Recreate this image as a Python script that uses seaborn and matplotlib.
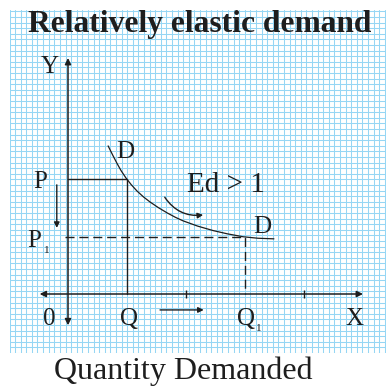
import matplotlib
matplotlib.use("Agg")
import matplotlib.pyplot as plt
from matplotlib.ticker import MultipleLocator
import pandas as pd
import seaborn as sns

# Quantity / price levels (economic units)
q_levels = [1.0, 3.0]          # Q, Q1
p_levels = [1.95, 0.97]        # P, P1
axis_ticks = [2.0, 4.0]

# Demand curve D-D read along its length
demand_qty = [0.68, 0.76, 0.83, 0.90, 0.98, 1.07, 1.17, 1.28, 1.39, 1.53,
              1.68, 1.82, 1.95, 2.20, 2.46, 2.70, 2.97, 3.22, 3.49]
demand_price = [2.51, 2.35, 2.215, 2.09, 1.97, 1.855, 1.745, 1.645, 1.56, 1.465,
                1.375, 1.30, 1.24, 1.15, 1.075, 1.02, 0.97, 0.945, 0.935]

title = "Relatively elastic demand"
xlabel = "Quantity Demanded"
elasticity_label = "Ed > 1"

sns.set_theme(style="white")
plt.rcParams["font.family"] = ["Liberation Serif", "DejaVu Serif"]

W, H = 386, 387
fig = plt.figure(figsize=(W / 100, H / 100), dpi=100)
fig.patch.set_facecolor("white")

UNIT = 59.0           # pixels per unit
OX, OY = 68.0, 294.0  # origin in pixels
GL, GR, GT, GB = 9.5, 386.0, 10.0, 353.0
ax = fig.add_axes([GL / W, 1 - GB / H, (GR - GL) / W, (GB - GT) / H])
ax.set_xlim((GL - OX) / UNIT, (GR - OX) / UNIT)
ax.set_ylim((OY - GB) / UNIT, (OY - GT) / UNIT)
for s in ax.spines.values():
    s.set_visible(False)

# graph-paper background
cell = 5.6 / UNIT
ax.xaxis.set_major_locator(MultipleLocator(cell, offset=ax.get_xlim()[0] % cell))
ax.yaxis.set_major_locator(MultipleLocator(cell, offset=ax.get_ylim()[0] % cell))
ax.grid(True, color="#96d6f4", linewidth=0.75, alpha=1.0)
ax.set_axisbelow(True)
ax.tick_params(length=0, labelbottom=False, labelleft=False)
ax.set_xlabel("")
ax.set_ylabel("")

ink = "#1e1e1e"
arrow_kw = dict(arrowstyle="<|-|>", color=ink, lw=1.1,
                mutation_scale=9, shrinkA=0, shrinkB=0)

# axes with arrowheads
ax.annotate("", xy=(0, 4.0), xytext=(0, -0.53), arrowprops=arrow_kw)
ax.annotate("", xy=(5.0, 0), xytext=(-0.48, 0), arrowprops=arrow_kw)
ax.scatter(axis_ticks, [0, 0], marker="|", s=40, color=ink, linewidths=1.0, zorder=3)

P, P1 = p_levels
Q, Q1 = q_levels

# initial price / quantity (solid)
sns.lineplot(x=[0, Q, Q], y=[P, P, 0], color=ink, lw=1.0, sort=False,
             estimator=None, ax=ax)
# new price / quantity (dashed)
sns.lineplot(x=[-0.05, Q1, Q1], y=[P1, P1, 0], color=ink, lw=1.0, sort=False,
             estimator=None, ax=ax, dashes=False, linestyle=(0, (6.5, 3.5)))

# demand curve
curve = pd.DataFrame({"q": demand_qty, "p": demand_price})
sns.lineplot(data=curve, x="q", y="p", color=ink, lw=0.9, sort=False,
             estimator=None, ax=ax)

# movement arrows
one_way = dict(arrowstyle="-|>", color=ink, lw=1.0, mutation_scale=8,
               shrinkA=0, shrinkB=0)
ax.annotate("", xy=(-0.19, 1.12), xytext=(-0.19, 1.85), arrowprops=one_way)
ax.annotate("", xy=(2.30, -0.27), xytext=(1.56, -0.27), arrowprops=one_way)
ax.annotate("", xy=(2.29, 1.34), xytext=(1.64, 1.64),
            arrowprops=dict(one_way, connectionstyle="arc3,rad=0.3"))

lab = dict(color=ink, fontsize=18, ha="center", va="baseline")
ax.text(-0.305, 3.75, "Y", **lab)
ax.text(0.966, 2.305, "D", **lab)
ax.text(3.29, 1.034, "D", **lab)
ax.text(2.68, 1.734, elasticity_label, color=ink, fontsize=21, ha="center", va="baseline")
ax.text(-0.475, 1.797, "P", **lab)
ax.text(-0.576, 0.80, "P", **lab)
ax.text(-0.364, 0.695, "1", color=ink, fontsize=8, ha="center", va="baseline")
ax.text(-0.322, -0.525, "0", **lab)
ax.text(1.034, -0.525, "Q", **lab)
ax.text(3.017, -0.525, "Q", **lab)
ax.text(3.237, -0.62, "1", color=ink, fontsize=8, ha="center", va="baseline")
ax.text(4.86, -0.525, "X", **lab)

fig.text(199.5 / W, 1 - 32 / H, title, fontsize=22.7, fontweight="bold",
         color=ink, ha="center", va="baseline")
fig.text(183 / W, 1 - 379 / H, xlabel, fontsize=23, color=ink,
         ha="center", va="baseline")

fig.savefig("out.png", dpi=100, facecolor="white")
